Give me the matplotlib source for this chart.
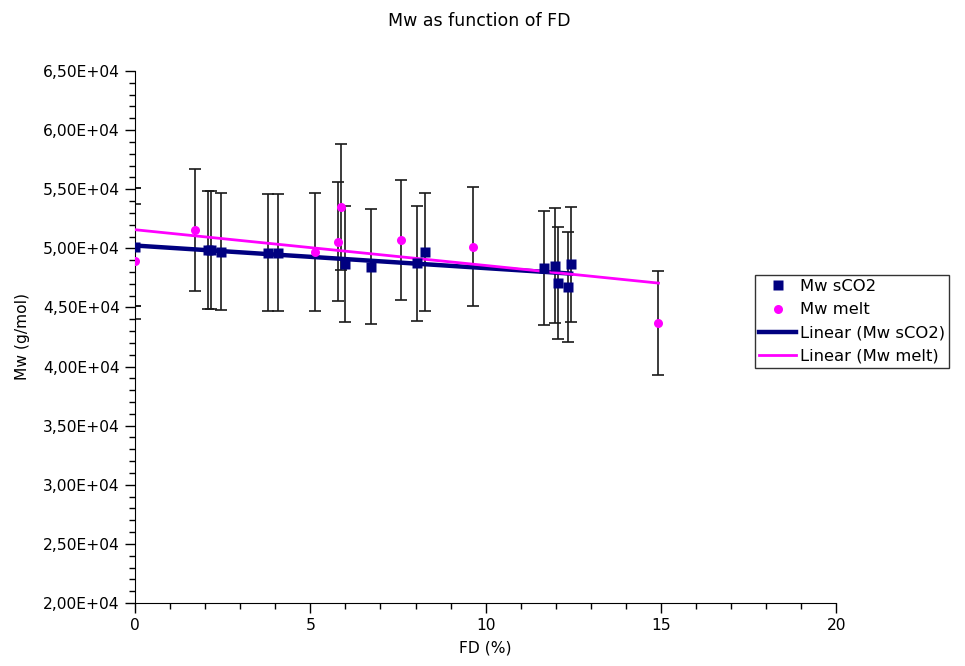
import matplotlib
matplotlib.use("Agg")
import matplotlib.pyplot as plt
import numpy as np
from matplotlib.ticker import FuncFormatter, MultipleLocator

# Mw sCO2 serie
fd_sco2 = [0.0, 2.07, 2.17, 2.45, 3.79, 4.07, 5.99, 6.72, 8.04, 8.27, 11.67, 11.98, 12.07, 12.35, 12.44]
mw_sco2 = [50100, 49860, 49860, 49720, 49640, 49640, 48680, 48450, 48740, 49670, 48340, 48540, 47070, 46710, 48650]
err_sco2 = [5010, 4990, 4990, 4970, 4960, 4960, 4870, 4850, 4870, 4970, 4830, 4850, 4710, 4670, 4870]

# Mw melt serie
fd_melt = [0.0, 0.0, 1.71, 5.14, 5.78, 5.87, 7.59, 9.65, 14.93]
mw_melt = [50100, 48900, 51550, 49700, 50570, 53480, 50710, 50140, 43690]
err_melt = [5010, 4890, 5160, 4970, 5060, 5350, 5070, 5010, 4370]

navy = '#000080'
magenta = '#FF00FF'
fs = 11.2

fig = plt.figure(figsize=(9.65, 6.66), dpi=100)
ax = fig.add_axes([0.14, 0.0946, 0.7265, 0.7988])

# villustrik
ax.errorbar(fd_sco2, mw_sco2, yerr=err_sco2, fmt='none', ecolor='#1a1a1a',
            elinewidth=1.2, capsize=4.3, capthick=1.2, zorder=2)
ax.errorbar(fd_melt, mw_melt, yerr=err_melt, fmt='none', ecolor='#1a1a1a',
            elinewidth=1.2, capsize=4.3, capthick=1.2, zorder=2)

# línulegar nálganir
for xs, ys, col, lw, lab in [(fd_sco2, mw_sco2, navy, 3.2, 'Linear (Mw sCO2)'),
                             (fd_melt, mw_melt, magenta, 2.0, 'Linear (Mw melt)')]:
    k, b = np.polyfit(xs, ys, 1)
    xx = np.array([min(xs), max(xs)])
    ax.plot(xx, k*xx + b, color=col, lw=lw, label=lab, zorder=3)

ax.plot(fd_melt, mw_melt, 'o', color=magenta, ms=6.5, mec='none', label='Mw melt', zorder=4)
ax.plot(fd_sco2, mw_sco2, 's', color=navy, ms=6.5, mec='none', label='Mw sCO2', zorder=5)

ax.set_xlim(0, 20)
ax.set_ylim(20000, 65000)
ax.xaxis.set_major_locator(MultipleLocator(5))
ax.xaxis.set_minor_locator(MultipleLocator(1))
ax.yaxis.set_major_locator(MultipleLocator(5000))
ax.yaxis.set_minor_locator(MultipleLocator(1000))
ax.yaxis.set_major_formatter(FuncFormatter(lambda v, p: f"{v:.2E}".replace('.', ',')))

for s in ['top', 'right']:
    ax.spines[s].set_visible(False)
ax.tick_params(which='major', length=7, width=1, labelsize=fs, pad=4)
ax.tick_params(which='minor', length=4, width=1)

ax.set_xlabel('FD (%)', fontsize=fs, labelpad=5)
ax.set_ylabel('Mw (g/mol)', fontsize=fs, labelpad=9)
fig.text(0.497, 0.968, 'Mw as function of FD', ha='center', va='center', fontsize=12.5)

h, l = ax.get_legend_handles_labels()
order = [l.index('Mw sCO2'), l.index('Mw melt'), l.index('Linear (Mw sCO2)'), l.index('Linear (Mw melt)')]
leg = fig.legend([h[i] for i in order], [l[i] for i in order], loc='upper left',
                 bbox_to_anchor=(0.782, 0.587), fontsize=11.8, frameon=True, fancybox=False,
                 edgecolor='black', borderpad=0.25, labelspacing=0.5, handlelength=2.3,
                 handletextpad=0.2, borderaxespad=0)
leg.get_frame().set_linewidth(1.0)

fig.savefig('out.png', dpi=100)
